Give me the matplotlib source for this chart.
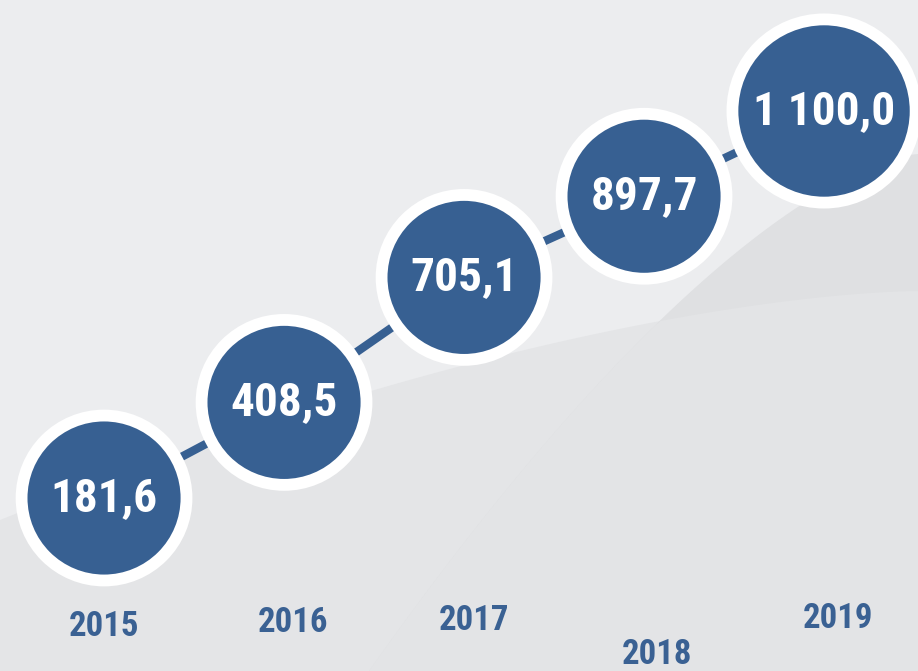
import matplotlib.pyplot as plt
from matplotlib.patches import Polygon
import numpy as np

years = [2015, 2016, 2017, 2018, 2019]
values = [181.6, 408.5, 705.1, 897.7, 1100.0]
value_labels = ["181,6", "408,5", "705,1", "897,7", "1 100,0"]
year_labels = ["2015", "2016", "2017", "2018", "2019"]

blue = "#376092"
year_blue = "#3a6193"
font = ["Roboto Condensed", "Archivo Narrow", "DejaVu Sans"]

fig = plt.figure(figsize=(9.18, 6.71), dpi=100)
fig.patch.set_facecolor("#ecedef")
ax = fig.add_axes([0, 0, 1, 1])
ax.set_xlim(2014.422, 2019.522)
ax.set_ylim(-228.9, 1363.4)
ax.axis("off")


def bg_shape(pts, color):
    ax.add_patch(Polygon(pts, closed=True, transform=ax.transAxes,
                         facecolor=color, edgecolor="none", zorder=0))


# two soft sweeping curves in the background (axes fraction coords)
t = np.linspace(0, 1, 80)
c1x = t
c1y = 1 - (520 - 229 * (1 - (1 - t) ** 1.6)) / 671
c2x = (369 + (918 - 369) * t) / 918
c2y = 1 - (671 - 517 * (1 - (1 - t) ** 1.5)) / 671

bg_shape(list(zip(c1x, c1y)) + [(1, 0), (0, 0)], "#e4e5e7")
bg_shape(list(zip(c2x, c2y)) + [(1, 0)], "#dfe0e2")
# part of the wedge below the first curve is lighter again
below = np.interp(c2x, c1x, c1y)
clip = np.minimum(c2y, below)
bg_shape(list(zip(c2x, clip)) + [(1, 0)], "#e3e4e6")

ax.plot(years, values, color=blue, lw=6, zorder=1, solid_capstyle="butt")

sizes = [14100] * 4 + [17400]
ax.scatter(years, values, s=sizes, c=blue, edgecolors="white",
           linewidths=8.5, zorder=2)

for x, v, lab in zip(years, values, value_labels):
    ax.text(x, v, lab, color="white", fontsize=34, fontweight="bold",
            family=font, ha="center", va="center", zorder=3)

# year captions under the circles, 2018 dropped a bit lower
year_dx = [0.0, 0.05, 0.055, 0.07, 0.08]
year_dy = [2.6, 5.5, 7, -17.5, 9]
for x, lab, dx, dy in zip(years, year_labels, year_dx, year_dy):
    ax.annotate(lab, (x + dx, -133), xytext=(0, dy), textcoords="offset points",
                color=year_blue, fontsize=25, fontweight="bold", family=font,
                ha="center", va="center", zorder=3)

fig.savefig("out.png", dpi=100, facecolor=fig.get_facecolor())
